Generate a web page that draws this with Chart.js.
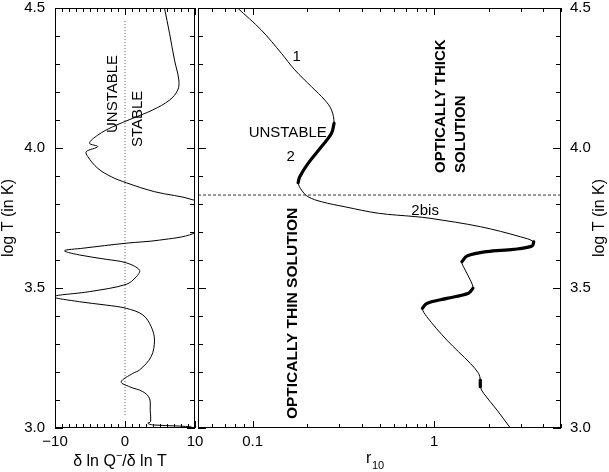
<!DOCTYPE html>
<html lang="en">
<head>
<meta charset="UTF-8">
<title>log T vs r10</title>
<script src="https://cdn.jsdelivr.net/npm/chart.js"></script>
<style>
  html, body { margin: 0; padding: 0; background: #fff; }
  #wrap { position: relative; width: 609px; height: 472px; }
  #wrap canvas { position: absolute; left: 0; top: 0; }
</style>
</head>
<body>
<div id="wrap">
  <canvas id="left" width="609" height="472"></canvas>
  <canvas id="right" width="609" height="472"></canvas>
</div>
<script>
// left panel: d ln Q- / d ln T along log T
const slopeX = [5.64, 6.36, 7.07, 7.69, 7.54, 6.36, 3.97, 1.11, -1.74, -3.89, -5.07, -3.89, -5.54, -5.31,
  -3.89, -1.97, 0.17, 4.21, 9.83, 14, 9.83, 4.93, 0.17, -6.03, -8.64, -6.5, -2.69, 0.17, 2.07, 1.6,
  0.17, -5.07, -10.2, -6.5, -2.69, 0.17, 2.54, 3.74, 4.21, 3.74, 2.07, 1.11, -0.54, 0.64, 2.54, 3.5,
  3.6, 3.64, 3.26, 3.97, 7.79, 9.5];
const slopeLogT = [4.5, 4.41, 4.314, 4.243, 4.207, 4.171, 4.136, 4.106, 4.076, 4.046, 4.017, 4.005, 3.987, 3.969,
  3.9275, 3.8975, 3.876, 3.844, 3.814, 3.76, 3.695, 3.671, 3.66, 3.642, 3.633, 3.618, 3.6025, 3.59, 3.564, 3.54,
  3.513, 3.487, 3.469, 3.451, 3.439, 3.4275, 3.404, 3.362, 3.314, 3.255, 3.207, 3.195, 3.165, 3.1475, 3.13, 3.106,
  3.064, 3.0225, 3.017, 3.011, 3.007, 3.004];

// right panel: r10 along log T
const r10 = [0.0826, 0.1117, 0.1441, 0.1706, 0.211, 0.25, 0.272, 0.281, 0.272, 0.2397, 0.2021, 0.1818, 0.178,
  0.1858, 0.2021, 0.2397, 0.3224, 0.4924, 0.785, 0.95, 1.796, 2.986, 3.537, 3.466, 2.742, 1.955, 1.516, 1.422,
  1.483, 1.581, 1.636, 1.547, 1.175, 0.911, 0.862, 0.911, 1.175, 1.581, 1.757, 1.796, 1.796, 1.873, 2.22, 2.63];
const r10LogT = [4.5, 4.421, 4.338, 4.279, 4.219, 4.171, 4.136, 4.088, 4.0525, 4.005, 3.945, 3.8975, 3.876,
  3.85, 3.826, 3.808, 3.79, 3.767, 3.755, 3.749, 3.719, 3.683, 3.665, 3.65, 3.638, 3.63, 3.614, 3.594,
  3.564, 3.529, 3.499, 3.481, 3.463, 3.445, 3.4275, 3.3975, 3.314, 3.231, 3.195, 3.171, 3.1475, 3.124, 3.064, 3.0];
// unstable stretches of the r10 curve (first and last index)
const unstableRuns = [[7, 12], [22, 27], [30, 34], [39, 40]];

const zeroLine = [3.046, 4.457];   // log T span of the dotted x = 0 line
const thinThickT = 3.832;          // dashed border between the two solutions

const yMajor = [3.0, 3.5, 4.0, 4.5];
const yMinor = [3.1, 3.2, 3.3, 3.4, 3.6, 3.7, 3.8, 3.9, 4.1, 4.2, 4.3, 4.4];
const slopeMajor = [-10, 0, 10];
const slopeMinor = [-9, -8, -7, -6, -5, -4, -3, -2, -1, 1, 2, 3, 4, 5, 6, 7, 8, 9];
const rMajor = [0.1, 1];
const rMinor = [0.06, 0.07, 0.08, 0.09, 0.2, 0.3, 0.4, 0.5, 0.6, 0.7, 0.8, 0.9, 2, 3, 4, 5];

const FONT = '"Liberation Sans", Arial, Helvetica, sans-serif';
const pts = (xs, ys) => xs.map((x, i) => ({ x: x, y: ys[i] }));

function decorations(ticks, notes, titles) {
  return {
    id: 'decor',
    afterDatasetsDraw(chart) {
      const ctx = chart.ctx, a = chart.chartArea;
      const xs = chart.scales.x, ys = chart.scales.y;
      ctx.save();
      ctx.strokeStyle = '#000';
      ctx.lineWidth = 1;
      ctx.strokeRect(a.left + 0.5, a.top + 0.5, a.right - a.left - 1, a.bottom - a.top - 1);
      ctx.beginPath();
      const xt = (vals, len) => vals.forEach(v => {
        const p = Math.round(xs.getPixelForValue(v)) + 0.5;
        ctx.moveTo(p, a.bottom); ctx.lineTo(p, a.bottom - len);
        ctx.moveTo(p, a.top); ctx.lineTo(p, a.top + len);
      });
      const yt = (vals, len) => vals.forEach(v => {
        const p = Math.round(ys.getPixelForValue(v)) + 0.5;
        ctx.moveTo(a.left, p); ctx.lineTo(a.left + len, p);
        ctx.moveTo(a.right, p); ctx.lineTo(a.right - len, p);
      });
      xt(ticks.xMajor, 7); xt(ticks.xMinor, 4);
      yt(yMajor, 8); yt(yMinor, 5);
      ctx.stroke();

      ctx.fillStyle = '#000';
      ctx.textBaseline = 'middle';
      notes.forEach(n => {
        ctx.save();
        ctx.translate(xs.getPixelForValue(n.x), ys.getPixelForValue(n.y));
        if (n.rot) ctx.rotate(n.rot * Math.PI / 180);
        ctx.font = n.font;
        ctx.textAlign = n.align || 'center';
        ctx.fillText(n.text, 0, 0);
        ctx.restore();
      });
      titles(ctx, a);
      ctx.restore();
    }
  };
}

function yTitle(ctx, x, y) {
  ctx.save();
  ctx.translate(x, y);
  ctx.rotate(-Math.PI / 2);
  ctx.font = '16px ' + FONT;
  ctx.textAlign = 'center';
  ctx.fillText('log T (in K)', 0, 0);
  ctx.restore();
}

const baseLine = { showLine: true, pointRadius: 0, borderColor: '#000', borderWidth: 1, tension: 0.35, fill: false };

function yAxis(position, width, pad) {
  return {
    type: 'linear', position: position, min: 3, max: 4.5,
    grid: { display: false, drawTicks: false }, border: { display: false },
    afterBuildTicks: s => { s.ticks = yMajor.map(v => ({ value: v })); },
    afterFit: s => { s.width = width; s.paddingTop = 0; s.paddingBottom = 0; },
    ticks: { padding: pad, color: '#000', font: { family: FONT, size: 15 }, callback: v => Number(v).toFixed(1) }
  };
}

function xFit(s) { s.height = 44; s.paddingLeft = 0; s.paddingRight = 0; }

new Chart(document.getElementById('left'), {
  type: 'scatter',
  data: {
    datasets: [
      Object.assign({}, baseLine, { data: pts(slopeX, slopeLogT) }),
      Object.assign({}, baseLine, { data: pts([0, 0], zeroLine), borderColor: '#555', borderDash: [1, 2], tension: 0 })
    ]
  },
  options: {
    responsive: false, animation: false,
    layout: { padding: { top: 8, right: 414, left: 0, bottom: 0 } },
    plugins: { legend: { display: false }, tooltip: { enabled: false } },
    scales: {
      x: {
        type: 'linear', min: -10, max: 10,
        grid: { display: false, drawTicks: false }, border: { display: false },
        afterBuildTicks: s => { s.ticks = slopeMajor.map(v => ({ value: v })); },
        afterFit: xFit,
        ticks: { padding: 5, color: '#000', font: { family: FONT, size: 15 }, maxRotation: 0,
          callback: v => (v < 0 ? '\u2212' + Math.abs(v) : String(v)) }
      },
      y: yAxis('left', 55, 10)
    }
  },
  plugins: [decorations(
    { xMajor: slopeMajor, xMinor: slopeMinor },
    [
      { text: 'UNSTABLE', x: -1.79, y: 4.193, rot: -90, font: '15px ' + FONT },
      { text: 'STABLE', x: 1.79, y: 4.104, rot: -90, font: '15px ' + FONT }
    ],
    (ctx, a) => {
      yTitle(ctx, 9, (a.top + a.bottom) / 2);
      ctx.font = '16px ' + FONT;
      ctx.textAlign = 'left';
      const p1 = '\u03b4 ln Q', p2 = '/\u03b4 ln T';
      const w1 = ctx.measureText(p1).width, w2 = ctx.measureText(p2).width;
      ctx.font = '11px ' + FONT;
      const ws = ctx.measureText('\u2212').width;
      let x = 120 - (w1 + ws + w2) / 2;
      ctx.font = '16px ' + FONT;
      ctx.fillText(p1, x, 462); x += w1;
      ctx.font = '11px ' + FONT;
      ctx.fillText('\u2212', x, 456); x += ws;
      ctx.font = '16px ' + FONT;
      ctx.fillText(p2, x, 462);
    }
  )]
});

const rightSets = [Object.assign({}, baseLine, { data: pts(r10, r10LogT) })];
unstableRuns.forEach(([i, j]) => {
  rightSets.push(Object.assign({}, baseLine, {
    data: pts(r10.slice(i, j + 1), r10LogT.slice(i, j + 1)), borderWidth: 3.2, borderCapStyle: 'round'
  }));
});
rightSets.push(Object.assign({}, baseLine, {
  data: pts([0.05, 5], [thinThickT, thinThickT]), borderDash: [3, 2], tension: 0, borderWidth: 0.8
}));

new Chart(document.getElementById('right'), {
  type: 'scatter',
  data: { datasets: rightSets },
  options: {
    responsive: false, animation: false,
    layout: { padding: { top: 8, right: 0, left: 198, bottom: 0 } },
    plugins: { legend: { display: false }, tooltip: { enabled: false } },
    scales: {
      x: {
        type: 'logarithmic', min: 0.05, max: 5,
        grid: { display: false, drawTicks: false }, border: { display: false },
        afterBuildTicks: s => { s.ticks = rMajor.map(v => ({ value: v })); },
        afterFit: xFit,
        ticks: { padding: 5, color: '#000', font: { family: FONT, size: 15 }, maxRotation: 0, autoSkip: false,
          callback: v => String(v) }
      },
      y: yAxis('right', 48, 9)
    }
  },
  plugins: [decorations(
    { xMajor: rMajor, xMinor: rMinor },
    [
      { text: '1', x: 0.175, y: 4.325, font: '15px ' + FONT },
      { text: 'UNSTABLE', x: 0.156, y: 4.054, font: '15px ' + FONT },
      { text: '2', x: 0.162, y: 3.968, font: '15px ' + FONT },
      { text: '2bis', x: 0.892, y: 3.775, font: '15px ' + FONT },
      { text: 'OPTICALLY THIN SOLUTION', x: 0.166, y: 3.409, rot: -90, font: 'bold 15.5px ' + FONT },
      { text: 'OPTICALLY THICK', x: 1.093, y: 3.911, rot: -90, align: 'left', font: 'bold 15px ' + FONT },
      { text: 'SOLUTION', x: 1.41, y: 3.911, rot: -90, align: 'left', font: 'bold 15px ' + FONT }
    ],
    (ctx, a) => {
      yTitle(ctx, 600, (a.top + a.bottom) / 2);
      ctx.font = '16px ' + FONT;
      ctx.textAlign = 'left';
      ctx.fillText('r', 366, 459);
      ctx.font = '11px ' + FONT;
      ctx.fillText('10', 372, 466);
    }
  )]
});
</script>
</body>
</html>
